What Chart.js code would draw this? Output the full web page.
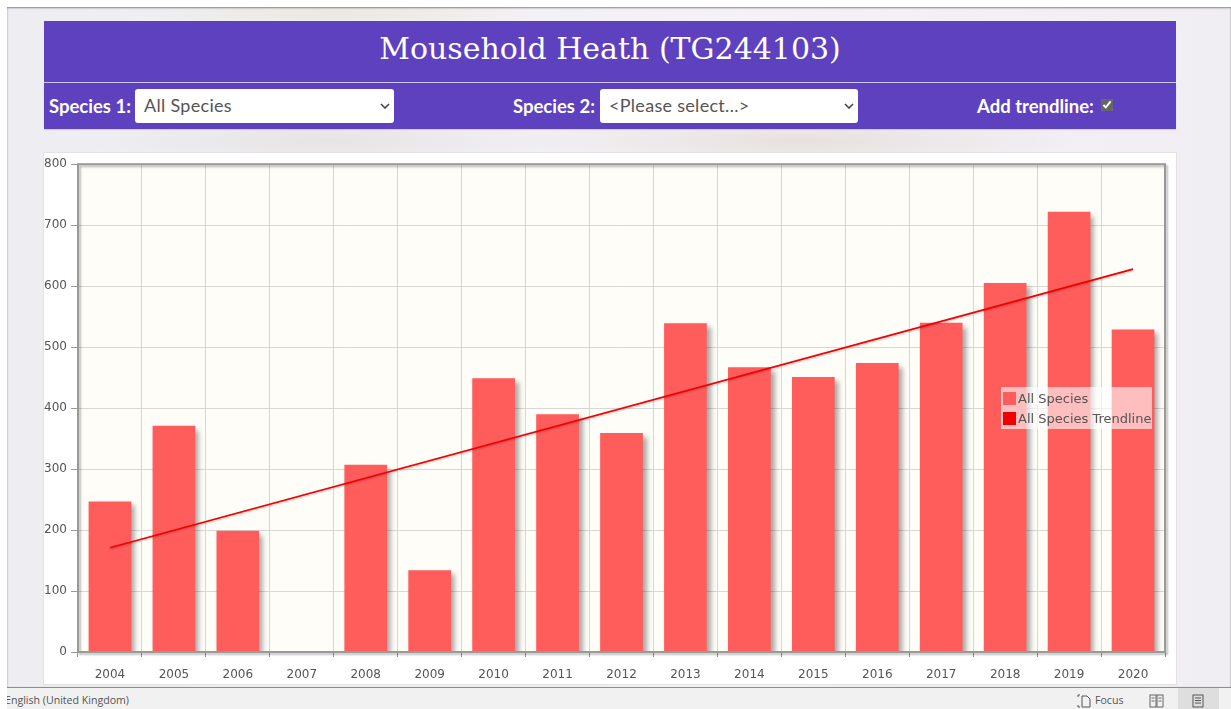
<!DOCTYPE html>
<html lang="en">
<head>
<meta charset="utf-8">
<title>Mousehold Heath (TG244103)</title>
<script src="https://cdn.jsdelivr.net/npm/chart.js@4"></script>
<style>
    html, body { margin: 0; padding: 0; }
    body {
        position: relative; width: 1231px; height: 709px; overflow: hidden; background: #fff;
        font-family: Lato, "Open Sans", sans-serif;
    }
    #page {
        position: absolute; left: 7px; top: 7px; width: 1224px; height: 680px;
        background:
            radial-gradient(ellipse 200px 22px at 330px 6px, rgba(226,214,180,.3), transparent),
            radial-gradient(ellipse 280px 30px at 790px 134px, rgba(190,160,140,.22), transparent),
            radial-gradient(ellipse 260px 30px at 320px 134px, rgba(215,210,205,.4), transparent),
            linear-gradient(90deg, #eeeef2 0, #f4f2f6 60%, #f0eef3 100%);
        box-shadow: inset 0 1px 2px rgba(0,0,0,.45);
    }
    .bar { position: absolute; left: 44px; width: 1132px; background: #5e41bf; color: #fff; }
    #head {
        top: 21px; height: 61px; line-height: 55px; text-align: center;
        font-family: "DejaVu Serif", serif; font-size: 30px; border-bottom: 1px solid #cfc8ea;
    }
    #ctrl { top: 83px; height: 46px; font-weight: 700; font-size: 18.5px; box-shadow: 0 1px 1px rgba(0,0,0,.12); }
    #ctrl label { position: absolute; top: 13px; line-height: 20px; white-space: nowrap; }
    #ctrl select {
        position: absolute; top: 6px; height: 34px; border: 0; border-radius: 3px;
        appearance: none; -webkit-appearance: none;
        background: #fff url("data:image/svg+xml,%3Csvg xmlns='http://www.w3.org/2000/svg' width='10' height='6'%3E%3Cpath d='M1 1l4 4 4-4' fill='none' stroke='%23444' stroke-width='1.600'/%3E%3C/svg%3E") no-repeat right 4px center;
        font-family: Lato, sans-serif; font-size: 18px; color: #555; padding: 0 0 2px 9px; letter-spacing: .3px;
    }
    #ctrl input { position: absolute; left: 1057px; top: 16px; width: 12px; height: 12px; margin: 0; accent-color: #666; }
    #panel { position: absolute; left: 44px; top: 153px; width: 1132px; height: 531px; background: #fff; box-shadow: 0 0 0 1px #e2e2e2; }
    #trend { position: absolute; left: 0; top: 0; }
    #legend {
        position: absolute; left: 957px; top: 234px; width: 151px; height: 42px;
        background: rgba(255,255,255,.6); color: #555;
        font-family: "DejaVu Sans", sans-serif; font-size: 13px;
    }
    .row { position: absolute; left: 2px; height: 20px; line-height: 20px; white-space: nowrap; }
    .swatch { display: inline-block; width: 13px; height: 13px; margin-right: 2px; vertical-align: -2px; }
    #status {
        position: absolute; left: 7px; top: 687px; width: 1224px; height: 22px; overflow: hidden;
        background: #f1f1f1; border-top: 1px solid #8e8e8e; box-sizing: border-box;
        font-family: "Open Sans", sans-serif; font-size: 10.6px; color: #555; line-height: 25px;
    }
    #status span { position: absolute; white-space: nowrap; }
    #status svg { position: absolute; top: 6px; }
    #active { position: absolute; left: 1171px; top: 0; width: 41px; height: 22px; background: #dedede; }
</style>
</head>
<body>
<div id="page"></div>
<div class="bar" id="head">Mousehold Heath (TG244103)</div>
<div class="bar" id="ctrl">
    <label style="left:5px">Species 1:</label>
    <select style="left:91px;width:259px"><option>All Species</option></select>
    <label style="left:469px">Species 2:</label>
    <select style="left:556px;width:258px"><option>&lt;Please select...&gt;</option></select>
    <label style="left:933px">Add trendline:</label>
    <input type="checkbox" checked>
</div>
<div id="panel">
    <canvas id="trend" width="1132" height="531"></canvas>
    <div id="legend"></div>
</div>
<div id="status">
    <span style="left:-2px">English (United Kingdom)</span>
    <div id="active"></div>
    <svg style="left:1070px" width="16" height="14" viewBox="0 0 16 14" fill="none" stroke="#555"><path d="M5 2h5l3 3v8H5z"/><path d="M1 1h2M1 1v2M1 13h2M1 13v-2"/></svg>
    <span style="left:1088px">Focus</span>
    <svg style="left:1142px" width="15" height="14" viewBox="0 0 15 14" fill="none" stroke="#666"><rect x="1" y="1" width="6" height="12"/><rect x="8" y="1" width="6" height="12"/><path d="M2.5 4h3M2.5 7h3M9.500 4h3M9.500 7h3"/></svg>
    <svg style="left:1185px" width="12" height="14" viewBox="0 0 12 14" fill="none" stroke="#555"><rect x="1" y="1" width="10" height="12"/><path d="M3 4h6M3 6.500h6M3 9h6"/></svg>
</div>

<script>
(function () {
    'use strict';

    // ── DATA ───────────────────────────────────────────────────────────────
    const YEARS  = ['2004','2005','2006','2007','2008','2009','2010','2011','2012',
                    '2013','2014','2015','2016','2017','2018','2019','2020'];
    const COUNTS = [247,371,199,0,307,134,449,390,359,539,467,451,474,540,605,722,529];
    const TREND  = [171,null,null,null,null,null,null,null,null,null,null,null,null,null,null,null,628];
    const Y_TICKS = [0,100,200,300,400,500,600,700,800];

    // ── CHART COLORS ───────────────────────────────────────────────────────
    const BAR_RED  = '#ff5c5c';
    const LINE_RED = '#f00000';
    const GRID     = '#d8d8d3';
    const AXIS     = '#999a96';
    const TEXT     = '#555555';
    const PLOT_BG  = '#fffdf8';

    // ── PLOT FRAME AND SHADOWS ─────────────────────────────────────────────
    const framePlugin = {
        id: 'frame',
        beforeDraw(chart) {
            const a = chart.chartArea;
            chart.ctx.fillStyle = PLOT_BG;
            chart.ctx.fillRect(a.left, a.top, a.width, a.height);
        },
        beforeDatasetDraw(chart, args) {
            const ctx = chart.ctx;
            const isBar = args.meta.type === 'bar';
            ctx.save();
            ctx.shadowColor   = isBar ? 'rgba(0,0,0,0.34)' : 'rgba(0,0,0,0.22)';
            ctx.shadowBlur    = isBar ? 5 : 2;
            ctx.shadowOffsetX = isBar ? 4 : 1;
            ctx.shadowOffsetY = isBar ? 4 : 1;
        },
        afterDatasetDraw(chart) {
            chart.ctx.restore();
        },
        afterDatasetsDraw(chart) {
            const a = chart.chartArea;
            const ctx = chart.ctx;
            ctx.save();
            ctx.shadowColor = 'rgba(0,0,0,0.25)';
            ctx.shadowBlur = 2;
            ctx.shadowOffsetX = 2;
            ctx.shadowOffsetY = 2;
            ctx.strokeStyle = AXIS;
            ctx.lineWidth = 2;
            ctx.strokeRect(a.left, a.top, a.width, a.height);
            ctx.restore();
        }
    };

    // ── CHART ──────────────────────────────────────────────────────────────
    const chart = new Chart(document.getElementById('trend'), {
        type: 'bar',
        data: {
            labels: YEARS,
            datasets: [{
                label: 'All Species',
                data: COUNTS,
                backgroundColor: BAR_RED,
                categoryPercentage: 1,
                barPercentage: 0.668,
                order: 1
            }, {
                type: 'line',
                label: 'All Species Trendline',
                data: TREND,
                borderColor: LINE_RED,
                backgroundColor: LINE_RED,
                borderWidth: 1.7,
                pointRadius: 0,
                spanGaps: true,
                order: 0
            }]
        },
        options: {
            responsive: false,
            animation: false,
            layout: { padding: { top: 11, right: 11, left: 0, bottom: 0 } },
            plugins: { legend: { display: false }, tooltip: { enabled: false } },
            scales: {
                x: {
                    afterFit: s => { s.height = 32; },
                    grid: { color: GRID, tickColor: AXIS, tickLength: 5 },
                    border: { display: false },
                    ticks: { color: TEXT, padding: 11, maxRotation: 0, font: { family: 'DejaVu Sans', size: 12 } }
                },
                y: {
                    min: 0,
                    max: 800,
                    afterFit: s => { s.width = 34; },
                    afterBuildTicks: s => { s.ticks = Y_TICKS.map(value => ({ value })); },
                    grid: { color: GRID, tickColor: AXIS, tickLength: 7 },
                    border: { display: false },
                    ticks: { color: TEXT, padding: 4, font: { family: 'DejaVu Sans', size: 12 } }
                }
            }
        },
        plugins: [framePlugin]
    });

    // ── LEGEND ─────────────────────────────────────────────────────────────
    const legend = document.getElementById('legend');
    chart.data.datasets.forEach((ds, i) => {
        const row = document.createElement('div');
        row.className = 'row';
        row.style.top = (2 + i * 20) + 'px';
        const swatch = document.createElement('span');
        swatch.className = 'swatch';
        swatch.style.background = ds.backgroundColor;
        row.appendChild(swatch);
        row.appendChild(document.createTextNode(ds.label));
        legend.appendChild(row);
    });
})();
</script>
</body>
</html>
